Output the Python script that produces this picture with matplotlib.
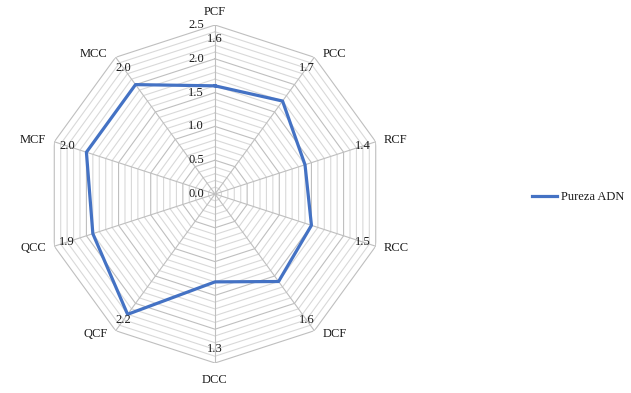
import numpy as np
import matplotlib
matplotlib.use("Agg")
import matplotlib.pyplot as plt

categories = ["PCF", "PCC", "RCF", "RCC", "DCF", "DCC", "QCF", "QCC", "MCF", "MCC"]
values = [1.6, 1.7, 1.4, 1.5, 1.6, 1.3, 2.2, 1.9, 2.0, 2.0]
tick_values = [0.0, 0.5, 1.0, 1.5, 2.0, 2.5]
tick_labels = ["0.0", "0.5", "1.0", "1.5", "2.0", "2.5"]
series_name = "Pureza ADN"

plt.rcParams['font.family'] = ['Liberation Serif', 'DejaVu Serif']
txt_color = '#1a1a1a'

fig = plt.figure(figsize=(6.31, 3.93), dpi=100)
ax = fig.add_axes([46/631, 30/393, 338/631, 338/393], projection='polar')
ax.set_theta_zero_location('N')
ax.set_theta_direction(-1)
ax.set_ylim(0, 2.5)
ax.grid(False)
ax.spines['polar'].set_visible(False)
ax.set_xticks([])
ax.set_yticks([])
ax.patch.set_alpha(0)

n = len(categories)
angles = np.arange(n) * 2 * np.pi / n
closed = np.append(angles, angles[0])

# polygon gridlines
for r in np.round(np.arange(0.1, 2.51, 0.1), 2):
    major = abs(r / 0.5 - round(r / 0.5)) < 1e-6
    ax.plot(closed, [r] * (n + 1), color='#bfbfbf' if major else '#d9d9d9',
            lw=0.8, zorder=1)
# spokes
for a in angles:
    ax.plot([a, a], [0, 2.5], color='#bfbfbf', lw=0.8, zorder=1)

# data
vals = np.append(values, values[0])
ax.plot(closed, vals, color='#4472C4', lw=2.3, zorder=3, label=series_name)

# radial tick labels (left of the top axis)
for tv, tl in zip(tick_values, tick_labels):
    ax.annotate(tl, xy=(0, tv), xytext=(-8, 0), textcoords='offset points',
                ha='right', va='center', fontsize=9, color=txt_color)

# data labels near outer ring
for a, v in zip(angles, values):
    ax.annotate(f"{v:.1f}", xy=(a, 2.3), ha='center', va='center',
                fontsize=9, color=txt_color)

# category labels
for a, c in zip(angles, categories):
    s = np.sin(a)
    cval = np.cos(a)
    if abs(s) < 0.1:
        ha = 'center'
        va = 'bottom' if cval > 0 else 'top'
        off = (0, 5 if cval > 0 else -8)
    else:
        ha = 'left' if s > 0 else 'right'
        va = 'center'
        off = (6 * np.sign(s), 3 * cval)
    ax.annotate(c, xy=(a, 2.5), xytext=off, textcoords='offset points',
                ha=ha, va=va, fontsize=9, color=txt_color)

fig.legend(loc='center left', bbox_to_anchor=(527/631, 196/393), frameon=False,
           fontsize=9, handlelength=2.0, handletextpad=0.3, borderaxespad=0,
           labelcolor=txt_color)

fig.savefig("out.png", dpi=100)
